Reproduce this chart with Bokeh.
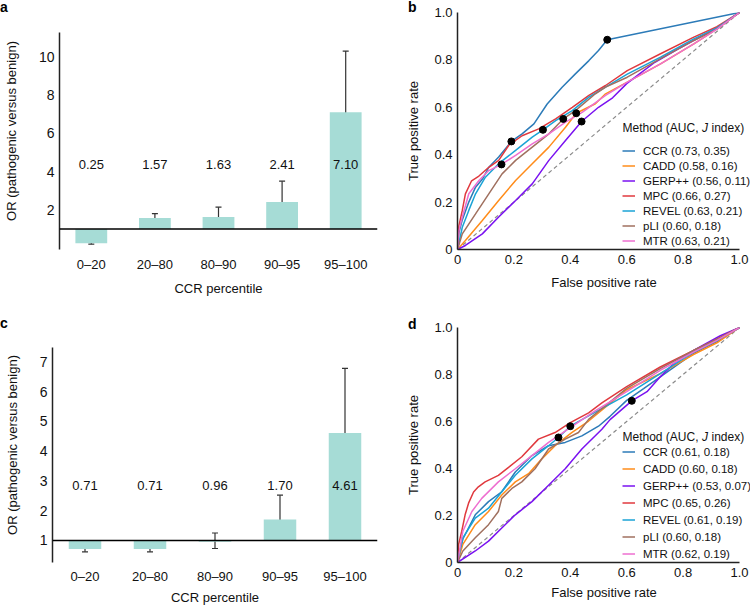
from bokeh.plotting import figure
from bokeh.models import (FactorRange, ColumnDataSource, Whisker, TeeHead, Span,
                          Legend, LegendItem, FixedTicker, Range1d)
from bokeh.layouts import column, row
from bokeh.embed import file_html
from bokeh.resources import INLINE
from bokeh.core.properties import value

FONT = "Liberation Sans"

# ---------------- data ----------------
categories = ["0–20", "20–80", "80–90", "90–95", "95–100"]

or_a = [0.25, 1.57, 1.63, 2.41, 7.10]
or_a_lower = [0.20, 1.30, 1.18, 1.70, 5.00]
or_a_upper = [0.29, 1.80, 2.14, 3.50, 10.30]

or_c = [0.71, 0.71, 0.96, 1.70, 4.61]
or_c_lower = [0.62, 0.62, 0.73, 1.11, 3.15]
or_c_upper = [0.81, 0.81, 1.25, 2.52, 6.78]

methods = ["CCR", "CADD", "GERP++", "MPC", "REVEL", "pLI", "MTR"]
colors = ["#2c7bb8", "#ff8c1a", "#7a12f0", "#e0393e", "#1ba3d6", "#a0705f", "#ee6fd0"]

auc_b = ["0.73, 0.35", "0.58, 0.16", "0.56, 0.11", "0.66, 0.27", "0.63, 0.21", "0.60, 0.18", "0.63, 0.21"]
auc_d = ["0.61, 0.18", "0.60, 0.18", "0.53, 0.07", "0.65, 0.26", "0.61, 0.19", "0.60, 0.18", "0.62, 0.19"]

legend_title_parts = ["Method (AUC,", "J", "index)"]
panel_letters = ["a", "b", "c", "d"]

# panel b ROC curves
ccr_b_x = [0, 0.005, 0.017, 0.04, 0.064, 0.09, 0.111, 0.146, 0.191, 0.229, 0.271, 0.318, 0.371, 0.418, 0.466, 0.5, 0.531, 1.0]
ccr_b_y = [0, 0.07, 0.125, 0.2, 0.263, 0.3, 0.347, 0.39, 0.456, 0.488, 0.53, 0.614, 0.685, 0.741, 0.797, 0.84, 0.885, 1.0]
cadd_b_x = [0, 0.028, 0.088, 0.146, 0.206, 0.265, 0.324, 0.383, 0.421, 0.489, 0.525, 0.602, 0.72, 0.838, 0.9, 1]
cadd_b_y = [0, 0.038, 0.122, 0.207, 0.291, 0.362, 0.432, 0.516, 0.575, 0.615, 0.657, 0.706, 0.783, 0.868, 0.915, 1]
gerp_b_x = [0, 0.028, 0.088, 0.146, 0.206, 0.265, 0.324, 0.383, 0.44, 0.5, 0.55, 0.6, 0.65, 0.7, 0.78, 0.85, 0.92, 1]
gerp_b_y = [0, 0.017, 0.066, 0.137, 0.207, 0.277, 0.376, 0.46, 0.54, 0.6, 0.64, 0.7, 0.745, 0.79, 0.845, 0.89, 0.935, 1]
mpc_b_x = [0, 0.005, 0.017, 0.028, 0.05, 0.076, 0.111, 0.146, 0.182, 0.229, 0.288, 0.348, 0.407, 0.466, 0.525, 0.602, 0.72, 0.838, 0.92, 1]
mpc_b_y = [0, 0.1, 0.165, 0.235, 0.29, 0.31, 0.347, 0.376, 0.44, 0.48, 0.509, 0.551, 0.6, 0.65, 0.692, 0.755, 0.826, 0.896, 0.94, 1]
revel_b_x = [0, 0.017, 0.04, 0.064, 0.099, 0.146, 0.206, 0.265, 0.303, 0.348, 0.407, 0.466, 0.525, 0.602, 0.72, 0.838, 0.92, 1]
revel_b_y = [0, 0.094, 0.165, 0.235, 0.305, 0.362, 0.418, 0.474, 0.505, 0.544, 0.586, 0.643, 0.685, 0.74, 0.812, 0.889, 0.935, 1]
pli_b_x = [0, 0.017, 0.064, 0.111, 0.158, 0.206, 0.265, 0.324, 0.375, 0.418, 0.489, 0.525, 0.602, 0.72, 0.838, 0.92, 1]
pli_b_y = [0, 0.066, 0.15, 0.235, 0.319, 0.376, 0.432, 0.488, 0.551, 0.586, 0.657, 0.685, 0.727, 0.805, 0.882, 0.93, 1]
mtr_b_x = [0, 0.005, 0.017, 0.04, 0.076, 0.111, 0.156, 0.206, 0.265, 0.324, 0.383, 0.442, 0.525, 0.602, 0.72, 0.838, 0.92, 1]
mtr_b_y = [0, 0.08, 0.137, 0.235, 0.291, 0.333, 0.359, 0.397, 0.446, 0.488, 0.537, 0.579, 0.65, 0.706, 0.783, 0.868, 0.93, 1]

opt_b_x = [0.531, 0.421, 0.44, 0.191, 0.303, 0.375, 0.156]
opt_b_y = [0.885, 0.575, 0.54, 0.456, 0.505, 0.551, 0.359]

# panel d ROC curves
ccr_d_x = [0, 0.019, 0.063, 0.11, 0.157, 0.205, 0.264, 0.323, 0.382, 0.441, 0.5, 0.541, 0.6, 0.66, 0.719, 0.837, 0.92, 1]
ccr_d_y = [0, 0.1, 0.203, 0.259, 0.301, 0.385, 0.455, 0.497, 0.511, 0.539, 0.58, 0.622, 0.69, 0.74, 0.79, 0.89, 0.94, 1]
cadd_d_x = [0, 0.019, 0.063, 0.11, 0.157, 0.205, 0.252, 0.299, 0.346, 0.405, 0.465, 0.6, 0.719, 0.837, 0.92, 1]
cadd_d_y = [0, 0.077, 0.161, 0.217, 0.287, 0.343, 0.378, 0.441, 0.497, 0.553, 0.602, 0.735, 0.804, 0.885, 0.935, 1]
gerp_d_x = [0, 0.063, 0.11, 0.157, 0.205, 0.264, 0.323, 0.382, 0.441, 0.512, 0.541, 0.618, 0.672, 0.719, 0.766, 0.837, 0.932, 1]
gerp_d_y = [0, 0.049, 0.091, 0.147, 0.203, 0.259, 0.329, 0.399, 0.483, 0.567, 0.608, 0.688, 0.727, 0.79, 0.846, 0.902, 0.965, 1]
mpc_d_x = [0, 0.004, 0.015, 0.027, 0.04, 0.057, 0.074, 0.098, 0.145, 0.181, 0.228, 0.287, 0.346, 0.4, 0.465, 0.512, 0.6, 0.719, 0.837, 0.92, 1]
mpc_d_y = [0, 0.077, 0.133, 0.203, 0.255, 0.3, 0.322, 0.343, 0.371, 0.405, 0.45, 0.525, 0.553, 0.595, 0.637, 0.679, 0.748, 0.832, 0.902, 0.95, 1]
revel_d_x = [0, 0.019, 0.063, 0.11, 0.157, 0.205, 0.264, 0.323, 0.358, 0.4, 0.482, 0.6, 0.719, 0.837, 0.92, 1]
revel_d_y = [0, 0.105, 0.189, 0.231, 0.301, 0.371, 0.441, 0.497, 0.532, 0.58, 0.636, 0.713, 0.804, 0.895, 0.945, 1]
pli_d_x = [0, 0.019, 0.063, 0.11, 0.145, 0.157, 0.193, 0.228, 0.275, 0.323, 0.382, 0.429, 0.465, 0.6, 0.719, 0.837, 0.92, 1]
pli_d_y = [0, 0.049, 0.105, 0.161, 0.217, 0.273, 0.315, 0.343, 0.399, 0.483, 0.525, 0.553, 0.609, 0.741, 0.825, 0.902, 0.95, 1]
mtr_d_x = [0, 0.019, 0.051, 0.086, 0.145, 0.205, 0.264, 0.323, 0.4, 0.488, 0.6, 0.719, 0.837, 0.92, 1]
mtr_d_y = [0, 0.133, 0.217, 0.273, 0.343, 0.399, 0.455, 0.511, 0.574, 0.645, 0.727, 0.818, 0.895, 0.945, 1]

opt_d_x = [0.358, 0.4, 0.618]
opt_d_y = [0.532, 0.58, 0.688]

roc_ticks = [0, 0.2, 0.4, 0.6, 0.8, 1.0]
roc_tick_labels = ["0", "0.2", "0.4", "0.6", "0.8", "1.0"]

BAR_COLOR = "#a6dcd6"
AXIS_COLOR = "#222222"


def style_common(p):
    p.toolbar_location = None
    p.outline_line_color = None
    p.xgrid.grid_line_color = None
    p.ygrid.grid_line_color = None
    p.background_fill_color = "white"
    p.border_fill_color = "white"
    for ax in (p.xaxis[0], p.yaxis[0]):
        ax.major_label_text_font = FONT
        ax.major_label_text_font_size = "13px"
        ax.major_label_text_color = "#111111"
        ax.axis_label_text_font = FONT
        ax.axis_label_text_font_size = "13px"
        ax.axis_label_text_font_style = "normal"
        ax.axis_label_text_color = "#111111"
        ax.major_tick_line_color = None
        ax.minor_tick_line_color = None
        ax.major_tick_out = 0
        ax.major_tick_in = 0


def bar_panel(vals, lower, upper, yr, ybounds, ticks, label_y, w, h, borders, stand):
    p = figure(width=w, height=h, x_range=FactorRange(*categories), y_range=Range1d(*yr),
               output_backend="svg", toolbar_location=None,
               min_border_left=borders[0], min_border_right=borders[1],
               min_border_top=borders[2], min_border_bottom=borders[3])
    style_common(p)
    src = ColumnDataSource(dict(cat=categories, val=vals, lo=lower, up=upper,
                                lab=["%.2f" % v for v in vals], ly=[label_y] * len(vals)))
    p.vbar(x="cat", bottom=1, top="val", width=0.5, source=src,
           fill_color=BAR_COLOR, line_color=None)
    p.add_layout(Whisker(source=src, base="cat", lower="lo", upper="up",
                         line_color="#333333", line_width=1.2,
                         lower_head=TeeHead(size=6, line_color="#333333", line_width=1.2),
                         upper_head=TeeHead(size=6, line_color="#333333", line_width=1.2)))
    p.add_layout(Span(location=1, dimension="width", line_color="black", line_width=1.5))
    p.text(x="cat", y="ly", text="lab", source=src, text_font=value(FONT),
           text_font_size="13px", text_align="center", text_baseline="middle",
           text_color="#111111")
    p.yaxis.ticker = FixedTicker(ticks=ticks)
    p.yaxis.bounds = ybounds
    p.yaxis.major_label_text_font_size = "14px"
    p.yaxis.axis_line_color = AXIS_COLOR
    p.yaxis.axis_line_width = 1.5
    p.yaxis.major_label_standoff = 5
    p.yaxis.axis_label = "OR (pathogenic versus benign)"
    p.yaxis.axis_label_standoff = 17
    p.xaxis.axis_line_color = None
    p.xaxis.major_label_standoff = stand[0]
    p.xaxis.axis_label = "CCR percentile"
    p.xaxis.axis_label_standoff = stand[1]
    return p


def roc_panel(curves, opt_x, opt_y, aucs, w, h, borders, row_h, leg_y, stand, title_y):
    p = figure(width=w, height=h, x_range=Range1d(0, 1.039), y_range=Range1d(0, 1),
               output_backend="svg", toolbar_location=None,
               min_border_left=borders[0], min_border_right=borders[1],
               min_border_top=borders[2], min_border_bottom=borders[3])
    style_common(p)
    p.line([0, 1], [0, 1], line_color="#8a8a8a", line_dash="4 3", line_width=1.2)
    items = []
    for (cx, cy), m, c, a in zip(curves, methods, colors, aucs):
        r = p.line(cx, cy, line_color=c, line_width=1.5)
        items.append(LegendItem(label="%s (%s)" % (m, a), renderers=[r]))
    p.scatter(opt_x, opt_y, size=7, color="black")
    for ax in (p.xaxis[0], p.yaxis[0]):
        ax.ticker = FixedTicker(ticks=roc_ticks)
        ax.major_label_overrides = {t: s for t, s in zip(roc_ticks, roc_tick_labels)}
        ax.axis_line_color = AXIS_COLOR
        ax.axis_line_width = 1.5
        ax.major_label_standoff = 5
    p.xaxis.bounds = (0, 1)
    p.xaxis.major_label_standoff = stand[0]
    p.xaxis.axis_label = "False positive rate"
    p.xaxis.axis_label_standoff = stand[1]
    p.yaxis.axis_label = "True positive rate"
    p.yaxis.axis_label_standoff = 10
    leg = Legend(items=items, location=(165, leg_y),
                 label_text_font=FONT, label_text_font_size="11.5px",
                 label_text_color="#111111",
                 glyph_width=13, glyph_height=row_h, label_height=row_h,
                 label_standoff=8, padding=0, margin=0, spacing=0,
                 border_line_color=None, background_fill_alpha=0)
    p.add_layout(leg)
    # legend title with italic J
    x0 = 165 / 282
    offs = [0, 79.4 / 282, 89.0 / 282]
    styles = ["normal", "italic", "normal"]
    for part, dx, st in zip(legend_title_parts, offs, styles):
        p.text(x=[x0 + dx], y=[title_y], text=[part], text_font=value(FONT),
               text_font_size="12px", text_font_style=st, text_align="left",
               text_baseline="middle", text_color="#111111")
    return p


# row 1: shared frame 12..249 ; row 2: shared frame 327..565
fa = bar_panel(or_a, or_a_lower, or_a_upper, (-0.076, 12.32), (-0.076, 11.27),
               [2, 4, 6, 8, 10], 4.35, 385, 300, (52, 8, 12, 51), (7, 6))
fc = bar_panel(or_c, or_c_lower, or_c_upper, (0.26, 8.15), (0.2, 7.49),
               [1, 2, 3, 4, 5, 6, 7], 2.86, 385, 307, (52, 8, 27, 42), (6, 3))

curves_b = [(ccr_b_x, ccr_b_y), (cadd_b_x, cadd_b_y), (gerp_b_x, gerp_b_y), (mpc_b_x, mpc_b_y),
            (revel_b_x, revel_b_y), (pli_b_x, pli_b_y), (mtr_b_x, mtr_b_y)]
curves_d = [(ccr_d_x, ccr_d_y), (cadd_d_x, cadd_d_y), (gerp_d_x, gerp_d_y), (mpc_d_x, mpc_d_y),
            (revel_d_x, revel_d_y), (pli_d_x, pli_d_y), (mtr_d_x, mtr_d_y)]

fb = roc_panel(curves_b, opt_b_x, opt_b_y, auc_b, 365, 300, (72, 0, 12, 51), 15, 1, (5, 8), 0.511)
fd = roc_panel(curves_d, opt_d_x, opt_d_y, auc_d, 365, 307, (72, 0, 27, 42), 17, 0, (5, 5), 0.535)

layout = column(row(fa, fb), row(fc, fd))

html = file_html(layout, INLINE)

# panel letters (bold), placed as real text on the page
letter_pos = [(0, 0), (408, 0), (0, 316), (408, 317)]
divs = "".join(
    '<div style="position:absolute;left:%dpx;top:%dpx;font:bold 14px \'%s\';'
    'line-height:14px;color:#000;z-index:10;">%s</div>' % (x, y, FONT, t)
    for (x, y), t in zip(letter_pos, panel_letters))
html = html.replace("</body>", divs + "</body>")

open("out.html", "w").write(html)
